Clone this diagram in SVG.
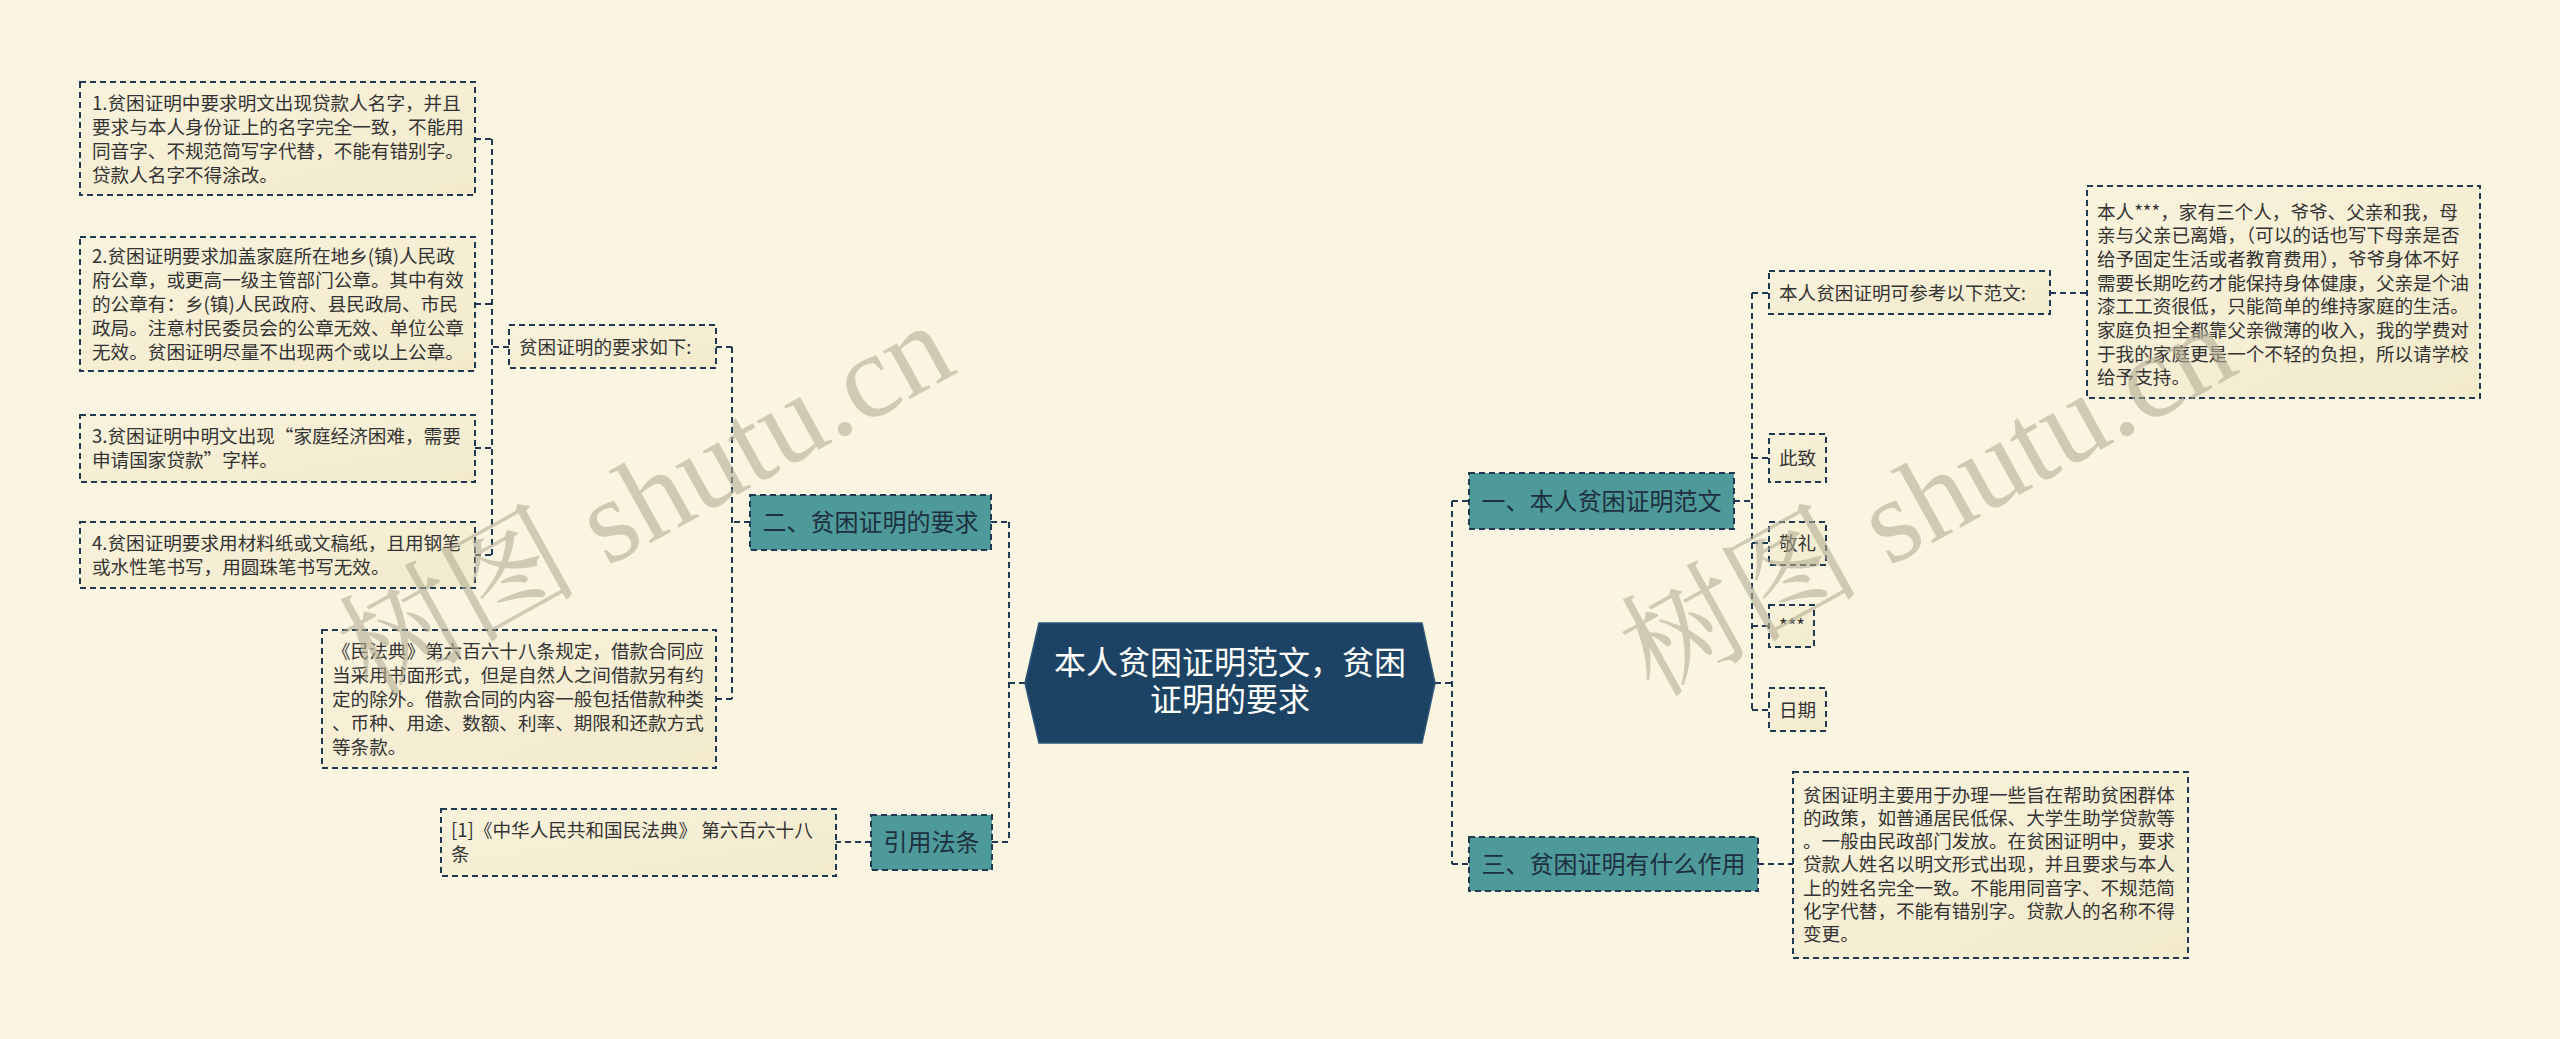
<svg xmlns="http://www.w3.org/2000/svg" width="2560" height="1039" viewBox="0 0 2560 1039">
<defs>
<linearGradient id="leafg" x1="0" y1="0" x2="1" y2="1">
<stop offset="0" stop-color="#f9f3dd"/>
<stop offset="1" stop-color="#f2eacb"/>
</linearGradient>
<style>
.bg{fill:#faf5e1}
.leaf{fill:url(#leafg);stroke:#1f3a50;stroke-width:2;stroke-dasharray:6 4}
.topic{fill:#4e9a9b;stroke:#1f3a50;stroke-width:2;stroke-dasharray:6 4}
.root{fill:#1c4363;stroke:#2d5575;stroke-width:1.5}
.conn{fill:none;stroke:#1f3a50;stroke-width:2;stroke-dasharray:6 4}
.t{font-family:"Noto Sans CJK SC","Noto Sans",sans-serif;font-size:18.6px;fill:#333}
.tt{font-family:"Noto Sans CJK SC","Noto Sans",sans-serif;font-size:24px;fill:#1e3040;text-anchor:middle}
.rt{font-family:"Noto Sans CJK SC","Noto Sans",sans-serif;font-size:32px;fill:#ffffff;text-anchor:middle}
.wm{font-family:"Liberation Serif","Noto Serif CJK SC","Noto Sans CJK SC",serif;font-size:120px;fill:#b3ae95;opacity:0.6}
</style>
</defs>
<rect class="bg" x="0" y="0" width="2560" height="1039"/>

<g id="connectors">
<path class="conn" d="M1025 683 H1009 M1009 522 V842 M991 522 H1009 M992 842 H1009"/>
<path class="conn" d="M750 522 H732 M732 347 V699 M716 347 H732 M716 699 H732"/>
<path class="conn" d="M509 347 H492 M492 139 V555 M475 139 H492 M475 304 H492 M475 448 H492 M475 555 H492"/>
<path class="conn" d="M871 842 H836"/>
<path class="conn" d="M1435 683 H1452 M1452 501 V864 M1452 501 H1469 M1452 864 H1469"/>
<path class="conn" d="M1734 501 H1752 M1752 293 V710 M1752 293 H1769 M1752 458 H1769 M1752 543 H1769 M1752 626 H1769 M1752 710 H1769"/>
<path class="conn" d="M2050 293 H2087"/>
<path class="conn" d="M1758 864 H1793"/>
</g>

<g id="root">
<polygon class="root" points="1039,623 1422,623 1435,683 1422,743 1039,743 1025,683"/>
<text class="rt" x="1230" y="674">本人贫困证明范文，贫困</text>
<text class="rt" x="1230" y="711">证明的要求</text>
</g>

<g id="topic2">
<rect class="topic" x="750" y="495" width="241" height="55"/>
<text class="tt" x="870.5" y="531">二、贫困证明的要求</text>
</g>

<g id="topic-law">
<rect class="topic" x="871" y="815" width="121" height="55"/>
<text class="tt" x="931.5" y="851">引用法条</text>
</g>

<g id="topic1">
<rect class="topic" x="1469" y="473" width="265" height="56"/>
<text class="tt" x="1601.5" y="510">一、本人贫困证明范文</text>
</g>

<g id="topic3">
<rect class="topic" x="1469" y="837" width="289" height="54"/>
<text class="tt" x="1613.5" y="873">三、贫困证明有什么作用</text>
</g>

<g id="req-intro">
<rect class="leaf" x="509" y="325" width="207" height="43"/>
<text class="t" x="519" y="353.5">贫困证明的要求如下:</text>
</g>

<g id="req1">
<rect class="leaf" x="80" y="82" width="395" height="113"/>
<text class="t" x="92" y="109.5">1.贫困证明中要求明文出现贷款人名字，并且</text>
<text class="t" x="92" y="133.5">要求与本人身份证上的名字完全一致，不能用</text>
<text class="t" x="92" y="157.5">同音字、不规范简写字代替，不能有错别字。</text>
<text class="t" x="92" y="181.5">贷款人名字不得涂改。</text>
</g>

<g id="req2">
<rect class="leaf" x="80" y="237" width="395" height="134"/>
<text class="t" x="92" y="262.5">2.贫困证明要求加盖家庭所在地乡(镇)人民政</text>
<text class="t" x="92" y="286.5">府公章，或更高一级主管部门公章。其中有效</text>
<text class="t" x="92" y="310.5">的公章有：乡(镇)人民政府、县民政局、市民</text>
<text class="t" x="92" y="334.5">政局。注意村民委员会的公章无效、单位公章</text>
<text class="t" x="92" y="358.5">无效。贫困证明尽量不出现两个或以上公章。</text>
</g>

<g id="req3">
<rect class="leaf" x="80" y="415" width="395" height="67"/>
<text class="t" x="92" y="442.5">3.贫困证明中明文出现“家庭经济困难，需要</text>
<text class="t" x="92" y="466.5">申请国家贷款”字样。</text>
</g>

<g id="req4">
<rect class="leaf" x="80" y="522" width="395" height="66"/>
<text class="t" x="92" y="549.5">4.贫困证明要求用材料纸或文稿纸，且用钢笔</text>
<text class="t" x="92" y="573.5">或水性笔书写，用圆珠笔书写无效。</text>
</g>

<g id="civil-code">
<rect class="leaf" x="322" y="630" width="394" height="138"/>
<text class="t" x="332" y="657.5">《民法典》第六百六十八条规定，借款合同应</text>
<text class="t" x="332" y="681.5">当采用书面形式，但是自然人之间借款另有约</text>
<text class="t" x="332" y="705.5">定的除外。借款合同的内容一般包括借款种类</text>
<text class="t" x="332" y="729.5">、币种、用途、数额、利率、期限和还款方式</text>
<text class="t" x="332" y="753.5">等条款。</text>
</g>

<g id="citation">
<rect class="leaf" x="441" y="809" width="395" height="67"/>
<text class="t" x="451" y="836.5">[1]《中华人民共和国民法典》 第六百六十八</text>
<text class="t" x="451" y="860.5">条</text>
</g>

<g id="sample-intro">
<rect class="leaf" x="1769" y="271" width="281" height="43"/>
<text class="t" x="1779" y="299.5">本人贫困证明可参考以下范文:</text>
</g>

<g id="sample-text">
<rect class="leaf" x="2087" y="186" width="393" height="212"/>
<text class="t" x="2097" y="218.5">本人***，家有三个人，爷爷、父亲和我，母</text>
<text class="t" x="2097" y="242.2">亲与父亲已离婚，（可以的话也写下母亲是否</text>
<text class="t" x="2097" y="265.9">给予固定生活或者教育费用），爷爷身体不好</text>
<text class="t" x="2097" y="289.6">需要长期吃药才能保持身体健康，父亲是个油</text>
<text class="t" x="2097" y="313.3">漆工工资很低，只能简单的维持家庭的生活。</text>
<text class="t" x="2097" y="337">家庭负担全都靠父亲微薄的收入，我的学费对</text>
<text class="t" x="2097" y="360.7">于我的家庭更是一个不轻的负担，所以请学校</text>
<text class="t" x="2097" y="384.4">给予支持。</text>
</g>

<g id="cizhi">
<rect class="leaf" x="1769" y="434" width="57" height="48"/>
<text class="t" x="1779" y="464.5">此致</text>
</g>

<g id="jingli">
<rect class="leaf" x="1769" y="522" width="57" height="43"/>
<text class="t" x="1779" y="549.5">敬礼</text>
</g>

<g id="stars">
<rect class="leaf" x="1769" y="605" width="45" height="42"/>
<text class="t" x="1779" y="632.5">***</text>
</g>

<g id="riqi">
<rect class="leaf" x="1769" y="688" width="57" height="43"/>
<text class="t" x="1779" y="716.5">日期</text>
</g>

<g id="purpose-text">
<rect class="leaf" x="1793" y="772" width="395" height="186"/>
<text class="t" x="1803" y="801.5">贫困证明主要用于办理一些旨在帮助贫困群体</text>
<text class="t" x="1803" y="824.8">的政策，如普通居民低保、大学生助学贷款等</text>
<text class="t" x="1803" y="848.1">。一般由民政部门发放。在贫困证明中，要求</text>
<text class="t" x="1803" y="871.4">贷款人姓名以明文形式出现，并且要求与本人</text>
<text class="t" x="1803" y="894.7">上的姓名完全一致。不能用同音字、不规范简</text>
<text class="t" x="1803" y="918">化字代替，不能有错别字。贷款人的名称不得</text>
<text class="t" x="1803" y="941.3">变更。</text>
</g>

<g id="watermarks">
<text class="wm" x="645" y="540" text-anchor="middle" transform="rotate(-29 645 498)">树图 shutu.cn</text>
<text class="wm" x="1927" y="540" text-anchor="middle" transform="rotate(-29 1927 498)">树图 shutu.cn</text>
</g>
</svg>
